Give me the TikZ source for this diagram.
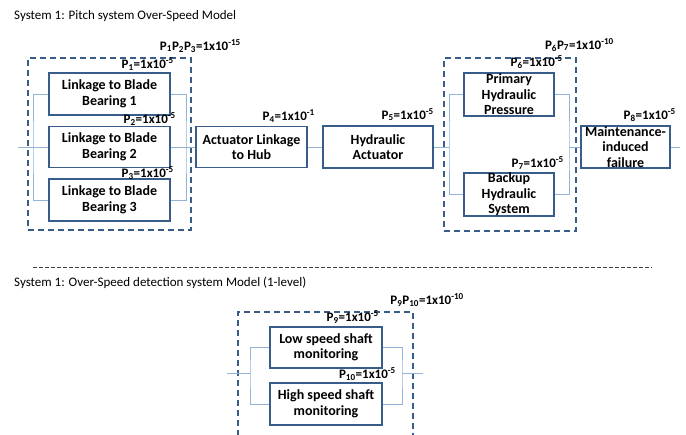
\documentclass[tikz,border=0pt]{standalone}
\usepackage{fontspec}
\setmainfont{Carlito}
\definecolor{boxblue}{HTML}{385D8A}
\definecolor{wireblue}{HTML}{95B3D7}
\definecolor{sepgray}{HTML}{404040}
\begin{document}
\begin{tikzpicture}[x=1pt,y=-1pt,
  blk/.style={draw=boxblue,line width=1.6pt,fill=white,align=center,inner sep=0pt,
    font=\fontsize{14}{15.5}\selectfont\bfseries},
  grp/.style={draw=boxblue,line width=1.6pt,dash pattern=on 6pt off 4pt},
  wire/.style={draw=wireblue,line width=0.8pt},
  plab/.style={anchor=east,inner sep=0pt,font=\fontsize{13}{14}\selectfont\bfseries},
  ttl/.style={anchor=west,inner sep=0pt,font=\fontsize{13}{15}\selectfont}]
\useasboundingbox (0,0) rectangle (686,435);
% titles
\node[ttl] (t1) at (14,16) {System 1: Pitch system Over-Speed Model};
\node[ttl] (t2) at (14,283) {System 1: Over-Speed detection system Model (1-level)};
\coordinate (s1) at (33,267);
\coordinate (s2) at (652,267);
\draw[sepgray,line width=0.5pt,dash pattern=on 4pt off 2pt] (s1) -- (s2);
% group boxes
\node[grp,minimum width=163pt,minimum height=172pt,inner sep=0pt] (g1) at (109.5,144) {};
\node[grp,minimum width=132pt,minimum height=173pt,inner sep=0pt] (g2) at (510,144.5) {};
\coordinate (g3a) at (238,436);
\coordinate (g3b) at (238,312);
\coordinate (g3c) at (413,312);
\coordinate (g3d) at (413,436);
\draw[grp] (g3a) -- (g3b) -- (g3c) -- (g3d);
% blocks
\node[blk,minimum width=121pt,minimum height=42pt] (b1) at (109.5,94) {Linkage to Blade\\Bearing 1};
\node[blk,minimum width=121pt,minimum height=41pt] (b2) at (109.5,147) {Linkage to Blade\\Bearing 2};
\node[blk,minimum width=121pt,minimum height=42pt] (b3) at (109.5,200) {Linkage to Blade\\Bearing 3};
\node[blk,minimum width=111pt,minimum height=41pt] (act) at (251.5,147) {Actuator Linkage\\to Hub};
\node[blk,minimum width=110pt,minimum height=42pt] (hyd) at (378,147) {Hydraulic\\Actuator};
\node[blk,minimum width=90pt,minimum height=43pt] (prim) at (509,94.5) {Primary\\Hydraulic\\Pressure};
\node[blk,minimum width=90pt,minimum height=43pt] (back) at (509,194.5) {Backup\\Hydraulic\\System};
\node[blk,minimum width=89pt,minimum height=42pt] (mnt) at (625.5,147) {Maintenance-\\induced\\failure};
\node[blk,minimum width=112pt,minimum height=41pt] (low) at (326,347.5) {Low speed shaft\\monitoring};
\node[blk,minimum width=112pt,minimum height=42pt] (high) at (326,404) {High speed shaft\\monitoring};
% wire coordinates
\coordinate (in1) at (18,147);
\coordinate (L1) at (33,147);
\coordinate (R1) at (186,147);
\coordinate (L2) at (449,147);
\coordinate (R2) at (569,147);
\coordinate (out1) at (680,147);
\coordinate (in3) at (227,373);
\coordinate (L3) at (250,373);
\coordinate (R3) at (402,373);
\coordinate (out3) at (423,373);
% wires
\draw[wire] (in1) -- (b2.west);
\draw[wire] (b1.west) -| (L1) |- (b3.west);
\draw[wire] (b1.east) -| (R1) |- (b3.east);
\draw[wire] (b2.east) -- (act.west);
\draw[wire] (act.east) -- (hyd.west);
\draw[wire] (hyd.east) -- (L2);
\draw[wire] (prim.west) -| (L2) |- (back.west);
\draw[wire] (prim.east) -| (R2) |- (back.east);
\draw[wire] (R2) -- (mnt.west);
\draw[wire] (mnt.east) -- (out1);
\draw[wire] (in3) -- (L3);
\draw[wire] (low.west) -| (L3) |- (high.west);
\draw[wire] (low.east) -| (R3) |- (high.east);
\draw[wire] (R3) -- (out3);
% labels
\node[plab] (p123) at (241,46) {P\textsubscript{1}P\textsubscript{2}P\textsubscript{3}=1x10\textsuperscript{-15}};
\node[plab] (p1) at (174,64) {P\textsubscript{1}=1x10\textsuperscript{-5}};
\node[plab] (p2) at (176,119) {P\textsubscript{2}=1x10\textsuperscript{-5}};
\node[plab] (p3) at (174,173) {P\textsubscript{3}=1x10\textsuperscript{-5}};
\node[plab] (p4) at (315,116) {P\textsubscript{4}=1x10\textsuperscript{-1}};
\node[plab] (p5) at (434,115) {P\textsubscript{5}=1x10\textsuperscript{-5}};
\node[plab] (p67) at (614,45) {P\textsubscript{6}P\textsubscript{7}=1x10\textsuperscript{-10}};
\node[plab] (p6) at (563,62) {P\textsubscript{6}=1x10\textsuperscript{-5}};
\node[plab] (p7) at (564,163) {P\textsubscript{7}=1x10\textsuperscript{-5}};
\node[plab] (p8) at (676,115) {P\textsubscript{8}=1x10\textsuperscript{-5}};
\node[plab] (p910) at (464,300) {P\textsubscript{9}P\textsubscript{10}=1x10\textsuperscript{-10}};
\node[plab] (p9) at (379,317) {P\textsubscript{9}=1x10\textsuperscript{-5}};
\node[plab] (p10) at (396,374) {P\textsubscript{10}=1x10\textsuperscript{-5}};
\end{tikzpicture}
\end{document}
